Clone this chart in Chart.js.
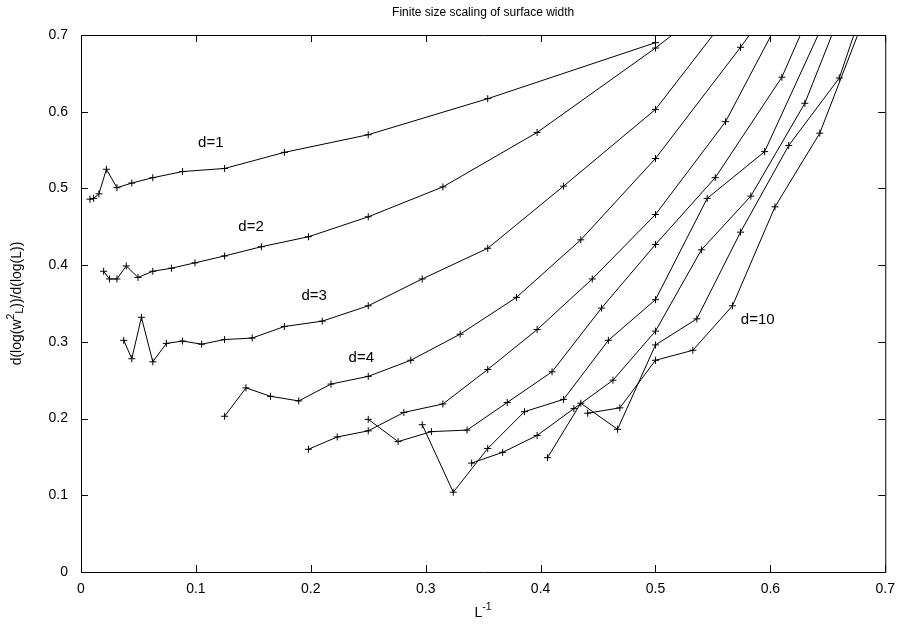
<!DOCTYPE html>
<html>
<head>
<meta charset="utf-8">
<title>Finite size scaling of surface width</title>
<script src="https://cdn.jsdelivr.net/npm/chart.js@4.4.1/dist/chart.umd.min.js"></script>
<style>
  html, body { margin: 0; padding: 0; background: #fff; }
  canvas { display: block; }
</style>
</head>
<body>
<canvas id="chart" width="904" height="630"></canvas>
<script>
// --- data: x = 1/L, y = d(log w^2)/d(log L) ---
const tickValues = [0, 0.1, 0.2, 0.3, 0.4, 0.5, 0.6, 0.7];
const tickLabels = ['0', '0.1', '0.2', '0.3', '0.4', '0.5', '0.6', '0.7'];

const invL_d1 = [0.0078, 0.011, 0.0156, 0.0221, 0.0313, 0.0442, 0.0625, 0.0884, 0.125, 0.177, 0.25, 0.354, 0.5];
const slope_d1 = [0.486, 0.487, 0.493, 0.525, 0.501, 0.507, 0.514, 0.522, 0.526, 0.547, 0.570, 0.617, 0.690];

const invL_d2 = [0.0197, 0.0248, 0.0313, 0.0394, 0.0496, 0.0625, 0.0787, 0.0992, 0.125, 0.157, 0.198, 0.25, 0.315, 0.397, 0.5, 0.63];
const slope_d2 = [0.392, 0.382, 0.382, 0.399, 0.384, 0.392, 0.396, 0.403, 0.412, 0.424, 0.437, 0.463, 0.502, 0.573, 0.683, 0.835];

const invL_d3 = [0.0372, 0.0442, 0.0526, 0.0625, 0.0743, 0.0884, 0.105, 0.125, 0.149, 0.177, 0.21, 0.25, 0.297, 0.354, 0.42, 0.5, 0.595];
const slope_d3 = [0.302, 0.278, 0.332, 0.274, 0.298, 0.301, 0.297, 0.303, 0.305, 0.320, 0.327, 0.347, 0.382, 0.422, 0.503, 0.603, 0.787];

const invL_d4 = [0.125, 0.1436, 0.165, 0.1895, 0.2176, 0.25, 0.287, 0.33, 0.379, 0.435, 0.5, 0.574, 0.66];
const slope_d4 = [0.203, 0.240, 0.229, 0.223, 0.245, 0.255, 0.276, 0.310, 0.358, 0.433, 0.539, 0.684, 0.86];

const invL_d5 = [0.198, 0.223, 0.25, 0.281, 0.315, 0.354, 0.397, 0.445, 0.5, 0.561, 0.63];
const slope_d5 = [0.160, 0.176, 0.184, 0.208, 0.219, 0.264, 0.316, 0.382, 0.466, 0.587, 0.783];

const invL_d6 = [0.25, 0.276, 0.305, 0.336, 0.371, 0.41, 0.453, 0.5, 0.552, 0.61, 0.673];
const slope_d6 = [0.199, 0.170, 0.183, 0.185, 0.221, 0.261, 0.344, 0.427, 0.514, 0.645, 0.86];

const invL_d7 = [0.297, 0.324, 0.354, 0.386, 0.42, 0.459, 0.5, 0.545, 0.595, 0.648];
const slope_d7 = [0.192, 0.104, 0.161, 0.209, 0.225, 0.302, 0.355, 0.487, 0.548, 0.721];

const invL_d8 = [0.34, 0.367, 0.397, 0.429, 0.463, 0.5, 0.54, 0.583, 0.63, 0.68];
const slope_d8 = [0.142, 0.156, 0.178, 0.213, 0.250, 0.314, 0.420, 0.490, 0.611, 0.80];

const invL_d9 = [0.406, 0.435, 0.467, 0.5, 0.536, 0.574, 0.616, 0.66, 0.707];
const slope_d9 = [0.149, 0.220, 0.186, 0.296, 0.330, 0.443, 0.556, 0.644, 0.852];

const invL_d10 = [0.441, 0.469, 0.5, 0.5325, 0.567, 0.604, 0.643, 0.685];
const slope_d10 = [0.207, 0.214, 0.276, 0.289, 0.347, 0.476, 0.572, 0.735];

const seriesNames = ['d=1', 'd=2', 'd=3', 'd=4', 'd=5', 'd=6', 'd=7', 'd=8', 'd=9', 'd=10'];
const seriesX = [invL_d1, invL_d2, invL_d3, invL_d4, invL_d5, invL_d6, invL_d7, invL_d8, invL_d9, invL_d10];
const seriesY = [slope_d1, slope_d2, slope_d3, slope_d4, slope_d5, slope_d6, slope_d7, slope_d8, slope_d9, slope_d10];

// curve labels drawn inside the plot (like gnuplot "set label")
const curveLabels = ['d=1', 'd=2', 'd=3', 'd=4', 'd=10'];
const curveLabelAt = [[0.113, 0.559], [0.148, 0.450], [0.203, 0.360], [0.244, 0.279], [0.589, 0.329]];

const FONT = '"Liberation Sans", Arial, Helvetica, sans-serif';

// draw a string made of pieces, some raised (sup) or lowered (sub)
function drawRich(ctx, parts, x, y, size) {
  const widths = parts.map(p => {
    ctx.font = (p.s ? size * 0.75 : size) + 'px ' + FONT;
    return ctx.measureText(p.t).width;
  });
  let cx = x - widths.reduce((a, b) => a + b, 0) / 2;
  parts.forEach((p, i) => {
    ctx.font = (p.s ? size * 0.75 : size) + 'px ' + FONT;
    const dy = p.s > 0 ? -size * 0.42 : p.s < 0 ? size * 0.25 : 0;
    ctx.fillText(p.t, cx, y + dy);
    cx += widths[i];
  });
}

const gnuplotFrame = {
  id: 'gnuplotFrame',
  afterDraw(chart) {
    const { ctx, chartArea: a, scales: { x, y } } = chart;
    const tl = 7;
    ctx.save();
    ctx.strokeStyle = '#000';
    ctx.lineWidth = 1;
    ctx.beginPath();
    ctx.rect(a.left + 0.5, a.top + 0.5, a.right - a.left, a.bottom - a.top);
    tickValues.forEach(v => {
      const px = Math.round(x.getPixelForValue(v)) + 0.5;
      ctx.moveTo(px, a.bottom); ctx.lineTo(px, a.bottom - tl);
      ctx.moveTo(px, a.top); ctx.lineTo(px, a.top + tl);
      const py = Math.round(y.getPixelForValue(v)) + 0.5;
      ctx.moveTo(a.left, py); ctx.lineTo(a.left + tl, py);
      ctx.moveTo(a.right, py); ctx.lineTo(a.right - tl, py);
    });
    ctx.stroke();

    ctx.fillStyle = '#000';
    ctx.textBaseline = 'middle';
    ctx.textAlign = 'center';
    ctx.font = '15px ' + FONT;
    curveLabels.forEach((t, i) => {
      const [lx, ly] = curveLabelAt[i];
      ctx.fillText(t, x.getPixelForValue(lx), y.getPixelForValue(ly));
    });

    // title
    ctx.font = '12px ' + FONT;
    ctx.fillText('Finite size scaling of surface width', (a.left + a.right) / 2, 13);

    // axis titles
    ctx.textAlign = 'left';
    drawRich(ctx, [{ t: 'L', s: 0 }, { t: '-1', s: 1 }], (a.left + a.right) / 2, 613, 14);
    ctx.translate(17, (a.top + a.bottom) / 2);
    ctx.rotate(-Math.PI / 2);
    drawRich(ctx, [{ t: 'd(log(w', s: 0 }, { t: '2', s: 1 }, { t: 'L', s: -1 }, { t: '))/d(log(L))', s: 0 }], 0, 0, 14);
    ctx.restore();
  }
};

new Chart(document.getElementById('chart'), {
  type: 'scatter',
  data: {
    datasets: seriesNames.map((name, i) => ({
      label: name,
      data: seriesX[i].map((v, j) => ({ x: v, y: seriesY[i][j] })),
      showLine: true,
      borderColor: '#000',
      borderWidth: 1,
      pointStyle: 'cross',
      pointRadius: 3.5,
      pointBorderColor: '#000',
      pointBorderWidth: 1,
      tension: 0,
      fill: false,
      clip: 0
    }))
  },
  options: {
    responsive: false,
    animation: false,
    devicePixelRatio: 1,
    layout: { padding: { top: 35, right: 17, left: 0, bottom: 0 } },
    plugins: { legend: { display: false }, tooltip: { enabled: false }, title: { display: false } },
    scales: {
      x: {
        type: 'linear', min: 0, max: 0.7,
        afterBuildTicks: s => { s.ticks = tickValues.map(v => ({ value: v })); },
        afterFit: s => { s.height = 58; },
        grid: { display: false, drawTicks: false },
        border: { display: false },
        ticks: {
          padding: 9, color: '#000', font: { family: FONT, size: 14 },
          maxRotation: 0, autoSkip: false,
          callback: v => tickLabels[tickValues.indexOf(v)] ?? ''
        }
      },
      y: {
        type: 'linear', min: 0, max: 0.7,
        afterBuildTicks: s => { s.ticks = tickValues.map(v => ({ value: v })); },
        afterFit: s => { s.width = 81; },
        grid: { display: false, drawTicks: false },
        border: { display: false },
        ticks: {
          padding: 13, color: '#000', font: { family: FONT, size: 14 },
          autoSkip: false,
          callback: v => tickLabels[tickValues.indexOf(v)] ?? ''
        }
      }
    }
  },
  plugins: [gnuplotFrame]
});
</script>
</body>
</html>
